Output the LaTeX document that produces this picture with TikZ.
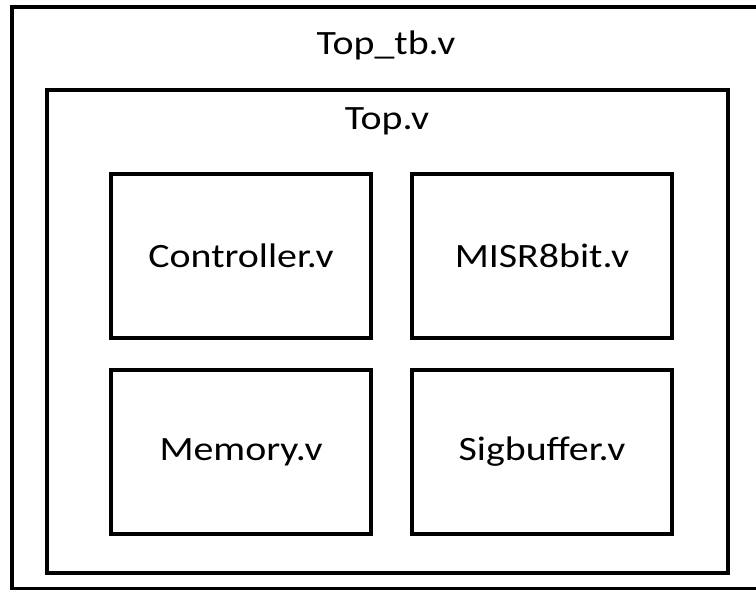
\documentclass[tikz,border=0pt]{standalone}
\usepackage{fontspec}
\setmainfont{Carlito}[FakeStretch=1.17]
\usetikzlibrary{positioning}

\begin{document}
\begin{tikzpicture}[
    x=0.02cm, y=-0.02cm,
    node distance=5.7mm and 7.5mm,
    module/.style={draw, line width=2pt, minimum width=5.2cm, minimum height=3.28cm,
                   inner sep=0pt, font=\fontsize{19.4}{23}\selectfont},
    frame/.style={draw, line width=2pt, outer sep=0pt, inner sep=0pt},
    title/.style={anchor=base, inner sep=0pt, font=\fontsize{19.4}{23}\selectfont},
]
\useasboundingbox (0,0) rectangle (756,590);
\clip (0,0) rectangle (756,590);

% testbench and top level frames
\node[frame, minimum width=15.8cm, minimum height=11.64cm] (toptb) at (407,298) {};
\node[title] (toptblabel) at (386,55) {Top\_tb.v};
\node[frame, minimum width=13.62cm, minimum height=9.66cm] (top) at (387.5,331.5) {};
\node[title] (toplabel) at (387,130) {Top.v};

% sub modules
\node[module] (ctrl) at (241,256) {Controller.v};
\node[module, right=of ctrl] (misr) {MISR8bit.v};
\node[module, below=of ctrl] (mem) {Memory.v};
\node[module, right=of mem] (sigbuf) {Sigbuffer.v};
\end{tikzpicture}
\end{document}
